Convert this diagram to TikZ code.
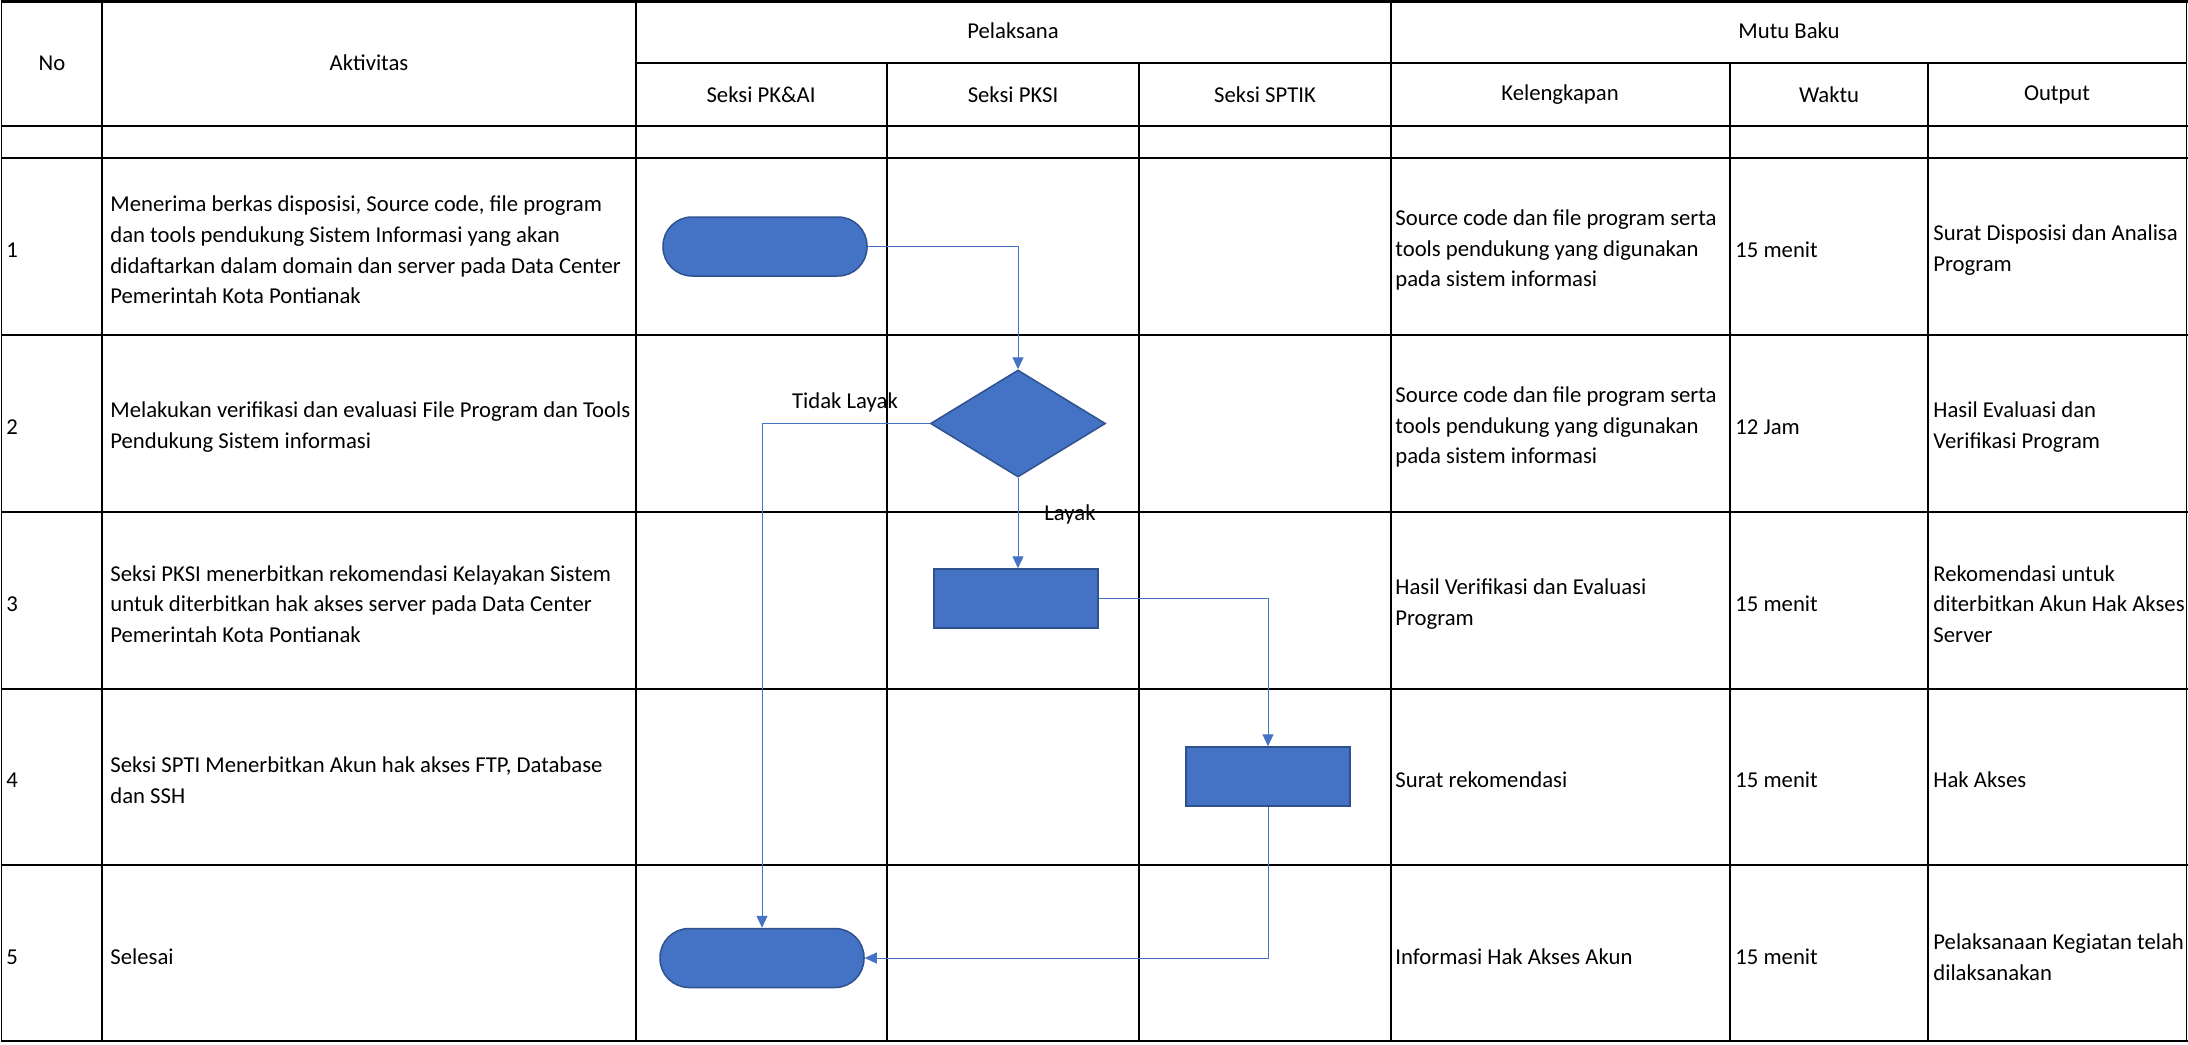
\documentclass[tikz,border=0pt]{standalone}
\usepackage{fontspec}
\setmainfont{Carlito}
\usetikzlibrary{shapes.geometric,arrows.meta}
\definecolor{fillblue}{HTML}{4472C4}
\definecolor{edgeblue}{HTML}{2F528F}
\definecolor{lineblue}{HTML}{4472C4}
\tikzset{
  txt/.style={font=\fontsize{11.35}{15.35}\selectfont, inner sep=0pt},
  cell/.style={txt, align=left, anchor=west},
  hdr/.style={txt, anchor=center},
  rowline/.style={line width=1.1pt, black},
  colline/.style={line width=0.9pt, black},
  subline/.style={line width=0.6pt, black},
  terminal/.style={rectangle, rounded corners=14.5pt, fill=fillblue, draw=edgeblue, line width=0.75pt, minimum width=102pt, minimum height=29.5pt, inner sep=0pt},
  procbox/.style={rectangle, fill=fillblue, draw=edgeblue, line width=0.75pt, minimum width=82pt, minimum height=29.5pt, inner sep=0pt},
  decision/.style={diamond, fill=fillblue, draw=edgeblue, line width=0.75pt, minimum width=87.5pt, minimum height=53.5pt, inner sep=0pt, aspect=1.64},
  conn/.style={lineblue, line width=0.5pt, -{Triangle[length=6pt,width=5.5pt]}}
}
\begin{document}
\begin{tikzpicture}[x=0.5pt,y=-0.5pt]
\useasboundingbox[fill=white] (0,0) rectangle (2188,1044);

% table grid
\foreach \yy in {1.5,126,158,335,512,689,865,1041}
  \draw[rowline] (0.5,\yy) -- (2187.5,\yy);
\draw[subline] (636,63) -- (2187,63);
\foreach \xx in {1.5,102,636,1391,2186.5}
  \draw[colline] (\xx,1) -- (\xx,1041.5);
\foreach \xx in {887,1139,1730,1928}
  \draw[colline] (\xx,63) -- (\xx,1041.5);

% headers
\node[hdr] (hno) at (52,63) {No};
\node[hdr] (hakt) at (369,63) {Aktivitas};
\node[hdr] (hpel) at (1013,31) {Pelaksana};
\node[hdr] (hmutu) at (1789,31) {Mutu Baku};
\node[hdr] (hpkai) at (761,95) {Seksi PK\&AI};
\node[hdr] (hpksi) at (1013,95) {Seksi PKSI};
\node[hdr] (hsptik) at (1265,95) {Seksi SPTIK};
\node[hdr] (hkel) at (1560,95) {Kelengkapan};
\node[hdr] (hwak) at (1829,95) {Waktu};
\node[hdr] (hout) at (2057,95) {Output};

% row 1
\node[cell] (n1) at (6,250) {1};
\node[cell] (a1) at (110,250) {Menerima berkas disposisi, Source code, file program\\dan tools pendukung Sistem Informasi yang akan\\didaftarkan dalam domain dan server pada Data Center\\Pemerintah Kota Pontianak};
\node[cell] (k1) at (1395,250) {Source code dan file program serta\\tools pendukung yang digunakan\\pada sistem informasi};
\node[cell] (w1) at (1735,250) {15 menit};
\node[cell] (o1) at (1933,250) {Surat Disposisi dan Analisa\\Program};

% row 2
\node[cell] (n2) at (6,427) {2};
\node[cell] (a2) at (110,427) {Melakukan verifikasi dan evaluasi File Program dan Tools\\Pendukung Sistem informasi};
\node[cell] (k2) at (1395,427) {Source code dan file program serta\\tools pendukung yang digunakan\\pada sistem informasi};
\node[cell] (w2) at (1735,427) {12 Jam};
\node[cell] (o2) at (1933,427) {Hasil Evaluasi dan\\Verifikasi Program};

% row 3
\node[cell] (n3) at (6,604) {3};
\node[cell] (a3) at (110,604) {Seksi PKSI menerbitkan rekomendasi Kelayakan Sistem\\untuk diterbitkan hak akses server pada Data Center\\Pemerintah Kota Pontianak};
\node[cell] (k3) at (1395,604) {Hasil Verifikasi dan Evaluasi\\Program};
\node[cell] (w3) at (1735,604) {15 menit};
\node[cell] (o3) at (1933,604) {Rekomendasi untuk\\diterbitkan Akun Hak Akses\\Server};

% row 4
\node[cell] (n4) at (6,780) {4};
\node[cell] (a4) at (110,780) {Seksi SPTI Menerbitkan Akun hak akses FTP, Database\\dan SSH};
\node[cell] (k4) at (1395,780) {Surat rekomendasi};
\node[cell] (w4) at (1735,780) {15 menit};
\node[cell] (o4) at (1933,780) {Hak Akses};

% row 5
\node[cell] (n5) at (6,957) {5};
\node[cell] (a5) at (110,957) {Selesai};
\node[cell] (k5) at (1395,957) {Informasi Hak Akses Akun};
\node[cell] (w5) at (1735,957) {15 menit};
\node[cell] (o5) at (1933,957) {Pelaksanaan Kegiatan telah\\dilaksanakan};

% flowchart shapes
\node[terminal] (start) at (765,246.5) {};
\node[decision] (dia) at (1018,423.5) {};
\node[procbox] (box1) at (1016,598.5) {};
\node[procbox] (box2) at (1268,776.5) {};
\node[terminal] (stop) at (762,958) {};

% labels
\node[txt] (ltidak) at (845,402) {Tidak Layak};
\node[txt] (llayak) at (1070,514) {Layak};

% connectors
\draw[conn] (start.east) -| (dia.north);
\draw[conn] (dia.west) -| (stop.north);
\draw[conn] (dia.south) -- (dia.south |- box1.north);
\draw[conn] (box1.east) -| (box2.north);
\draw[conn] (box2.south) |- (stop.east);
\end{tikzpicture}
\end{document}
